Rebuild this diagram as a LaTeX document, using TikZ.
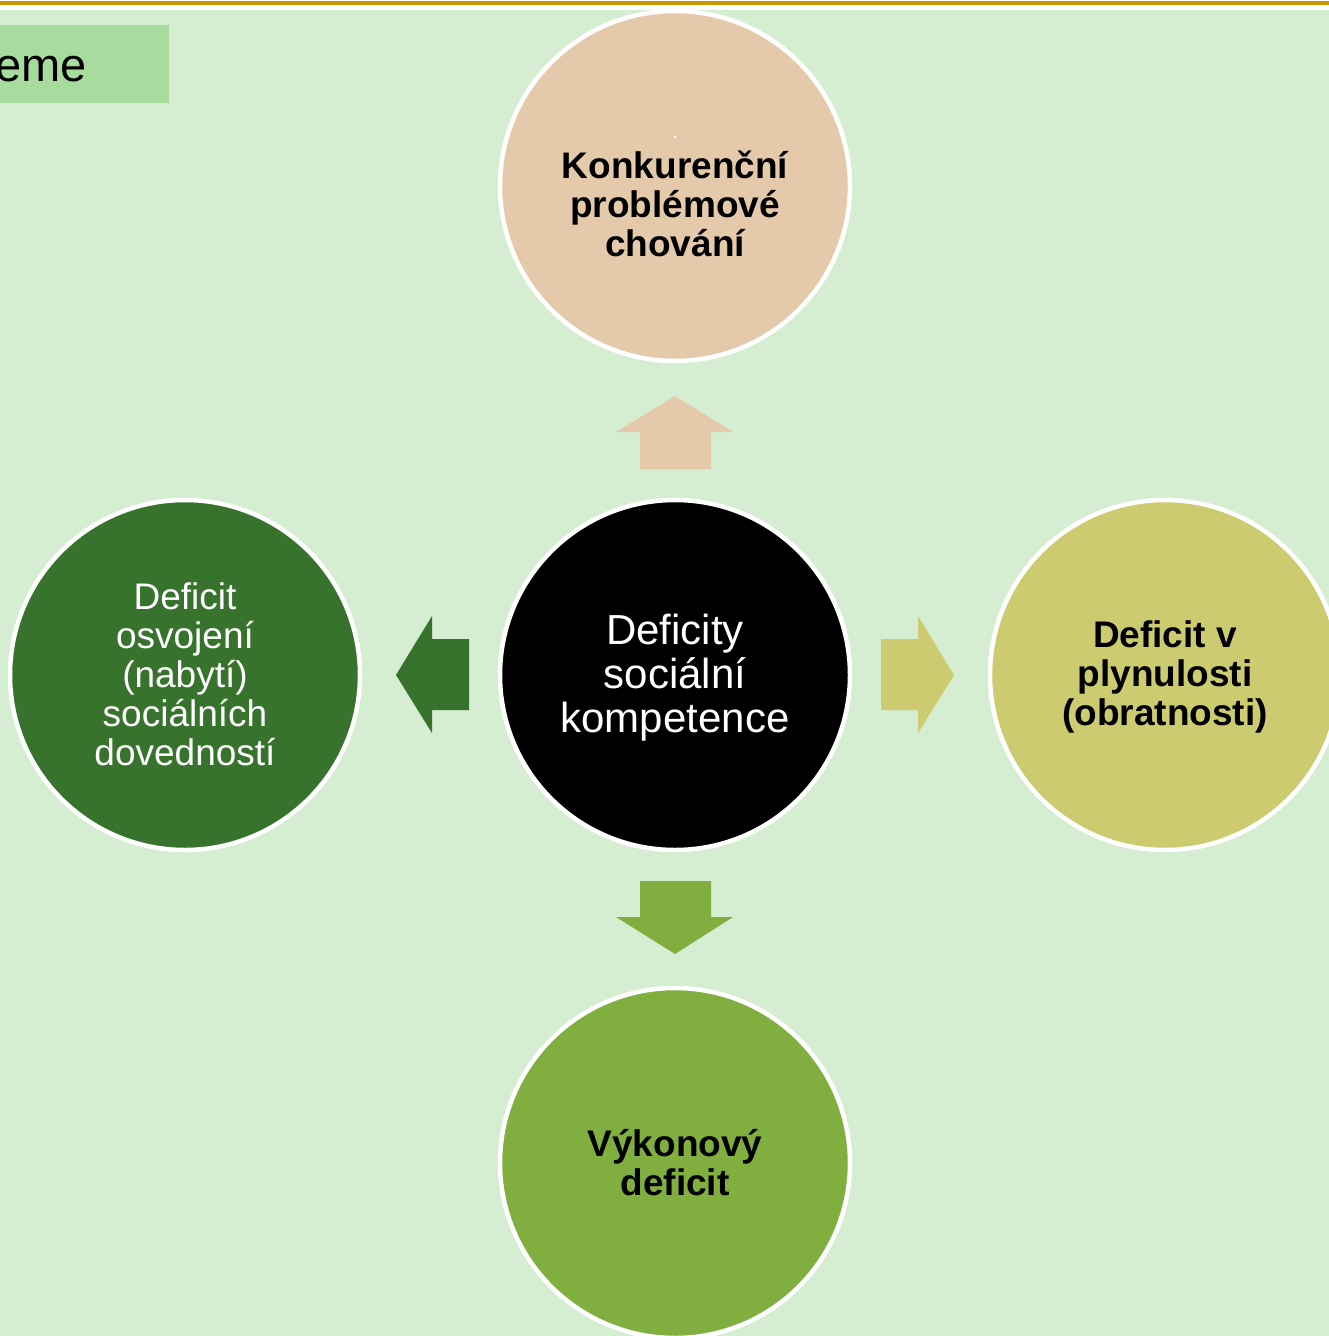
\documentclass[tikz,border=0pt]{standalone}
\usepackage{fontspec}
\setmainfont{Liberation Sans}
\definecolor{bgg}{HTML}{D5EDD0}
\definecolor{boxg}{HTML}{A8DC9E}
\definecolor{gold}{HTML}{C89A00}
\definecolor{tan}{HTML}{E4CAAA}
\definecolor{dkg}{HTML}{37732D}
\definecolor{olive}{HTML}{CDCB70}
\definecolor{ltg}{HTML}{80AF40}
\begin{document}
\begin{tikzpicture}[x=1pt,y=-1pt,
  disc/.style={circle,draw=white,line width=4.5pt,minimum size=350pt,inner sep=0pt},
  lbl/.style={align=center,inner sep=0pt,font=\fontsize{37}{39}\selectfont},
  blk/.style={draw=none}]
\useasboundingbox (0,0) rectangle (1329,1336);
\clip (0,0) rectangle (1329,1336);
\fill[white] (0,0) rectangle (1329,1336);
\fill[gold] (0,1) rectangle (1329,5);
\fill[bgg] (0,10) rectangle (1329,1336);
\node[fill=boxg,minimum width=169pt,minimum height=78pt,inner sep=0pt,anchor=north west] (tb) at (0,25) {};
\node[anchor=base east,inner sep=0pt,font=\fontsize{47}{49}\selectfont] (tt) at (87,81) {eme};
% circles
\node[disc,fill=tan] (top) at (675,186) {};
\node[disc,fill=black] (mid) at (675,675) {};
\node[disc,fill=dkg] (lft) at (185,675) {};
\node[disc,fill=olive] (rgt) at (1165,675) {};
\node[disc,fill=ltg] (bot) at (675,1163) {};
\fill[white] (674,136) rectangle (676,138);
% labels
\node[lbl,font=\fontsize{37}{39}\selectfont\bfseries] (toplbl) at (675,204) {Konkurenční\\problémové\\chování};
\node[lbl,text=white,font=\fontsize{42}{44}\selectfont] (midlbl) at (675,678) {Deficity\\sociální\\kompetence};
\node[lbl,text=white] (lftlbl) at (185,674) {Deficit\\osvojení\\(nabytí)\\sociálních\\dovedností};
\node[lbl,font=\fontsize{37}{39}\selectfont\bfseries] (rgtlbl) at (1165,677) {Deficit v\\plynulosti\\(obratnosti)};
\node[lbl,font=\fontsize{37}{39}\selectfont\bfseries] (botlbl) at (675,1163) {Výkonový\\deficit};
% block arrows
\fill[tan] (675,396) -- (733,432) -- (711,432) -- (711,469) -- (640,469) -- (640,432) -- (616,432) -- cycle;
\fill[dkg] (396,675) -- (432,616) -- (432,639) -- (469,639) -- (469,710) -- (432,710) -- (432,733) -- cycle;
\fill[olive] (954,675) -- (918,616) -- (918,639) -- (881,639) -- (881,710) -- (918,710) -- (918,733) -- cycle;
\fill[ltg] (675,954) -- (733,917) -- (711,917) -- (711,881) -- (640,881) -- (640,917) -- (616,917) -- cycle;
\end{tikzpicture}
\end{document}
